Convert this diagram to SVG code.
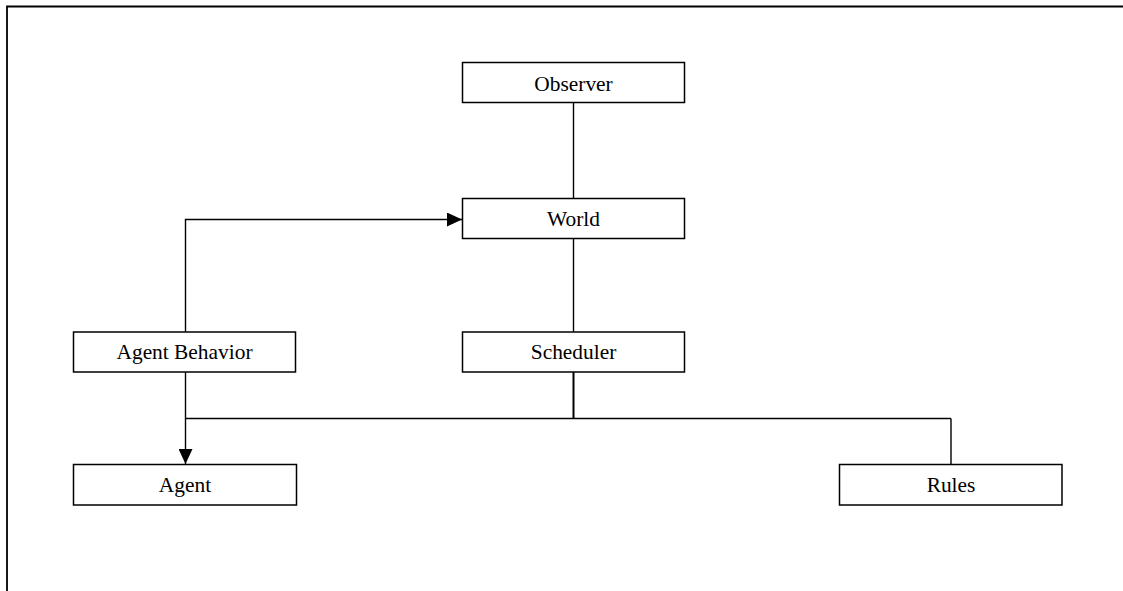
<svg xmlns="http://www.w3.org/2000/svg" width="1123" height="591" viewBox="0 0 1123 591">
  <defs>
    <style>
      .box { fill: #ffffff; stroke: #000000; stroke-width: 1.5; }
      .lbl { font-family: "Liberation Serif", "Times New Roman", serif; font-size: 21.4px; fill: #000000; text-anchor: middle; }
      .ln { fill: none; stroke: #000000; stroke-width: 1.4; }
      .frame { fill: none; stroke: #000000; stroke-width: 1.8; }
    </style>
    <marker id="arrow" markerWidth="16" markerHeight="14" refX="15" refY="7" orient="auto" markerUnits="userSpaceOnUse">
      <path d="M0,0 L15,7 L0,14 Z" fill="#000000"/>
    </marker>
  </defs>
  <rect width="1123" height="591" fill="#ffffff"/>
  <polyline class="frame" points="7,591 7,6.5 1123,6.5"/>
  <g id="connectors">
    <line class="ln" x1="573.5" y1="102" x2="573.5" y2="199"/>
    <line class="ln" x1="573.5" y1="239" x2="573.5" y2="332"/>
    <polyline class="ln" points="185.5,332 185.5,219.5 462,219.5" marker-end="url(#arrow)"/>
    <line class="ln" x1="573.5" y1="372" x2="573.5" y2="418.5" style="stroke-width:2"/>
    <line class="ln" x1="185.5" y1="418.5" x2="951" y2="418.5"/>
    <line class="ln" x1="951" y1="418.5" x2="951" y2="464.5"/>
    <line class="ln" x1="185.5" y1="372" x2="185.5" y2="464" marker-end="url(#arrow)"/>
  </g>
  <g id="observer">
    <rect class="box" x="462.5" y="62.5" width="222" height="40"/>
    <text class="lbl" x="573.5" y="90.5">Observer</text>
  </g>
  <g id="world">
    <rect class="box" x="462.5" y="198.5" width="222" height="40"/>
    <text class="lbl" x="573.5" y="226">World</text>
  </g>
  <g id="agent-behavior">
    <rect class="box" x="73.5" y="332" width="222" height="40"/>
    <text class="lbl" x="184.5" y="359">Agent Behavior</text>
  </g>
  <g id="scheduler">
    <rect class="box" x="462.5" y="332" width="222" height="40"/>
    <text class="lbl" x="573.5" y="359">Scheduler</text>
  </g>
  <g id="agent">
    <rect class="box" x="73.5" y="464.5" width="223" height="40.5"/>
    <text class="lbl" x="185" y="491.5">Agent</text>
  </g>
  <g id="rules">
    <rect class="box" x="839.5" y="464.5" width="222.5" height="40.5"/>
    <text class="lbl" x="951" y="491.5">Rules</text>
  </g>
</svg>
